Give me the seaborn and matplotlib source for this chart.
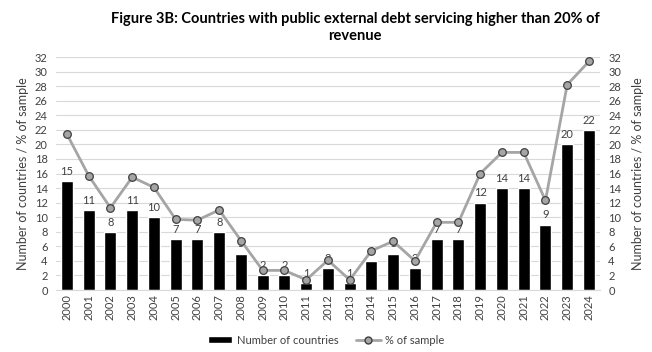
import numpy as np
import pandas as pd
import matplotlib
matplotlib.use("Agg")
import matplotlib.pyplot as plt
import seaborn as sns
from matplotlib.lines import Line2D
from matplotlib.patches import Patch

# Data
years = [str(y) for y in range(2000, 2025)]
countries = [15, 11, 8, 11, 10, 7, 7, 8, 5, 2, 2, 1, 3, 1, 4, 5, 3, 7, 7, 12, 14, 14, 9, 20, 22]
pct_sample = [21.4, 15.7, 11.3, 15.5, 14.1, 9.7, 9.6, 11.0, 6.8, 2.7, 2.7, 1.4, 4.1, 1.4,
              5.4, 6.7, 4.0, 9.3, 9.3, 16.0, 18.9, 18.9, 12.3, 28.2, 31.4]

title = "Figure 3B: Countries with public external debt servicing higher than 20% of\nrevenue"
y_label = "Number of countries / % of sample"

sns.set_style("white")
plt.rcParams["font.family"] = ["Lato", "DejaVu Sans"]

df = pd.DataFrame({"year": years, "countries": countries, "pct": pct_sample})

fig = plt.figure(figsize=(6.52, 3.52), dpi=100)
ax = fig.add_axes([0.086, 0.176, 0.834, 0.662])

# Bars
sns.barplot(data=df, x="year", y="countries", color="black", width=0.55,
            saturation=1, ax=ax, zorder=2)
ax.set_ylim(0, 32)
ax.set_yticks(range(0, 33, 2))
ax.set_xlim(-0.5, len(years) - 0.5)
ax.grid(axis="y", color="#d9d9d9", linewidth=0.8, zorder=0)
ax.set_axisbelow(True)
ax.set_xlabel("")
ax.set_ylabel(y_label, fontsize=9, color="#404040")
ax.tick_params(axis="x", labelrotation=90, labelsize=8, length=0, pad=3)
ax.tick_params(axis="y", labelsize=8, length=0, pad=6)
for lab in ax.get_xticklabels() + ax.get_yticklabels():
    lab.set_color("#404040")

# Data labels over bars
for i, v in enumerate(countries):
    ax.annotate(str(v), (i, v), xytext=(0, 3), textcoords="offset points",
                ha="center", va="bottom", fontsize=8, color="#404040", zorder=3)

for s in ["top", "right", "left"]:
    ax.spines[s].set_visible(False)
ax.spines["bottom"].set_color("#d9d9d9")

# Line on secondary axis
ax2 = ax.twinx()
sns.lineplot(x=np.arange(len(years)), y=df["pct"], ax=ax2, color="#a5a5a5",
             linewidth=2, marker="o", markersize=5.5, markerfacecolor="#a5a5a5",
             markeredgecolor="#404040", markeredgewidth=0.9)
ax2.set_ylim(0, 32)
ax2.set_yticks(range(0, 33, 2))
ax2.set_xlim(-0.5, len(years) - 0.5)
ax2.set_ylabel(y_label, fontsize=9, color="#404040", labelpad=8)
ax2.tick_params(axis="y", labelsize=8, length=0, pad=6)
for lab in ax2.get_yticklabels():
    lab.set_color("#404040")
for s in ax2.spines.values():
    s.set_visible(False)

fig.text(0.545, 0.965, title, ha="center", va="top", fontsize=10.5, fontweight="bold",
         color="black", linespacing=1.2)

handles = [Patch(facecolor="black", label="Number of countries"),
           Line2D([0], [0], color="#a5a5a5", linewidth=2, marker="o", markersize=5,
                  markerfacecolor="#a5a5a5", markeredgecolor="#404040",
                  label="% of sample")]
fig.legend(handles=handles, loc="lower center", bbox_to_anchor=(0.5, -0.01), ncol=2,
           frameon=False, fontsize=8, handlelength=2.2, handleheight=0.5,
           handletextpad=0.4, columnspacing=1.6, labelcolor="#404040")

fig.savefig("out.png", dpi=100)
